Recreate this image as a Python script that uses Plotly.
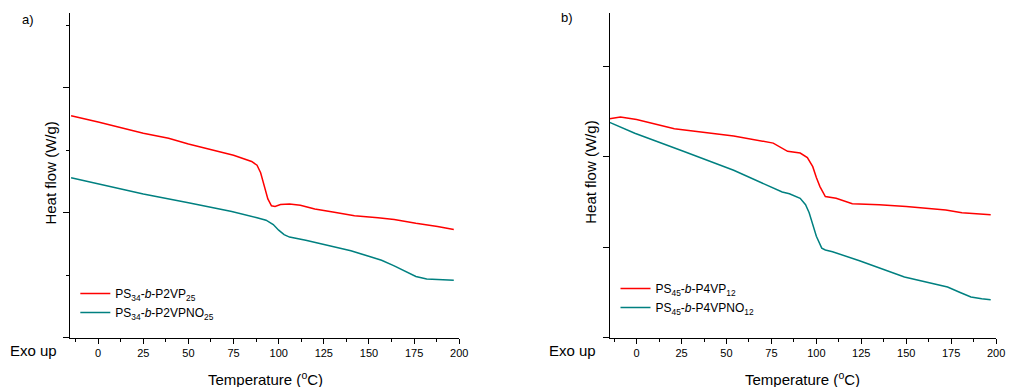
import plotly.graph_objects as go

W, H = 1016, 387

# ---- Data (heat flow in arbitrary units) ----
temp_a_p2vp = [-15, 0, 25, 39, 50, 75, 85, 88, 90, 92, 94, 96, 98, 101, 106, 112, 120, 130, 142, 155, 164, 176, 188, 197]
hf_a_p2vp = [3.55, 3.45, 3.27, 3.19, 3.10, 2.92, 2.82, 2.76, 2.64, 2.45, 2.22, 2.11, 2.10, 2.13, 2.14, 2.12, 2.06, 2.01, 1.95, 1.92, 1.89, 1.83, 1.78, 1.73]

temp_a_p2vpno = [-15, 0, 25, 50, 74, 88, 93, 97, 100, 103, 106, 115, 127, 140, 149, 157, 164, 170, 176, 182, 190, 197]
hf_a_p2vpno = [2.56, 2.46, 2.30, 2.16, 2.02, 1.92, 1.88, 1.81, 1.72, 1.65, 1.61, 1.56, 1.48, 1.39, 1.31, 1.24, 1.15, 1.06, 0.98, 0.94, 0.93, 0.92]

temp_b_p4vp = [-15, -9, 0, 21, 54, 76, 84, 88, 91, 95, 98, 100, 102, 105, 111, 120, 135, 150, 162, 172, 181, 190, 197]
hf_b_p4vp = [2.42, 2.44, 2.41, 2.31, 2.23, 2.15, 2.06, 2.05, 2.04, 1.99, 1.89, 1.77, 1.67, 1.56, 1.54, 1.48, 1.47, 1.45, 1.43, 1.41, 1.38, 1.37, 1.36]

temp_b_p4vpno = [-15, -1, 26, 54, 81, 85, 91, 94, 96, 98, 100, 103, 105, 109, 124, 149, 165, 173, 180, 186, 192, 197]
hf_b_p4vpno = [2.38, 2.26, 2.06, 1.85, 1.61, 1.59, 1.54, 1.47, 1.38, 1.25, 1.12, 0.99, 0.97, 0.95, 0.85, 0.67, 0.60, 0.56, 0.50, 0.45, 0.43, 0.42]

x_ticks = [0, 25, 50, 75, 100, 125, 150, 175, 200]

names_a = ["PS<sub>34</sub>-<i>b</i>-P2VP<sub>25</sub>", "PS<sub>34</sub>-<i>b</i>-P2VPNO<sub>25</sub>"]
names_b = ["PS<sub>45</sub>-<i>b</i>-P4VP<sub>12</sub>", "PS<sub>45</sub>-<i>b</i>-P4VPNO<sub>12</sub>"]

RED = "#FF0000"
TEAL = "#008080"
FONT = "Liberation Sans, Arial, sans-serif"

def px(x):
    return x / W

def py(y):
    return 1 - y / H

fig = go.Figure()
fig.add_trace(go.Scatter(x=temp_a_p2vp, y=hf_a_p2vp, mode="lines", name=names_a[0],
                         line=dict(color=RED, width=1.5), xaxis="x", yaxis="y", legend="legend"))
fig.add_trace(go.Scatter(x=temp_a_p2vpno, y=hf_a_p2vpno, mode="lines", name=names_a[1],
                         line=dict(color=TEAL, width=1.5), xaxis="x", yaxis="y", legend="legend"))
fig.add_trace(go.Scatter(x=temp_b_p4vp, y=hf_b_p4vp, mode="lines", name=names_b[0],
                         line=dict(color=RED, width=1.5), xaxis="x2", yaxis="y2", legend="legend2"))
fig.add_trace(go.Scatter(x=temp_b_p4vpno, y=hf_b_p4vpno, mode="lines", name=names_b[1],
                         line=dict(color=TEAL, width=1.5), xaxis="x2", yaxis="y2", legend="legend2"))

ydom = [py(337.7), py(13)]
xcommon = dict(showgrid=False, zeroline=False, showline=True, linecolor="black", linewidth=1,
               ticks="outside", ticklen=5, tickwidth=1, tickcolor="black",
               tickvals=x_ticks, tickfont=dict(size=11, color="black", family=FONT),
               minor=dict(dtick=12.5, tick0=0, ticks="outside", ticklen=3, tickcolor="black", tickwidth=1))
ycommon = dict(showgrid=False, zeroline=False, showline=True, linecolor="black", linewidth=1,
               ticks="outside", tickwidth=1, tickcolor="black", showticklabels=False)

fig.update_layout(
    width=W, height=H,
    margin=dict(l=0, r=0, t=0, b=0),
    paper_bgcolor="white", plot_bgcolor="white",
    font=dict(family=FONT, color="black"),
    xaxis=dict(domain=[px(71), px(463.3)], range=[-15.4, 200], anchor="y", **xcommon),
    yaxis=dict(domain=ydom, range=[0, 5.195], anchor="x", dtick=2, tick0=0, ticklen=6,
               minor=dict(dtick=1, tick0=0, ticks="outside", ticklen=3, tickcolor="black"), **ycommon),
    xaxis2=dict(domain=[px(615), px(1005)], range=[-15.05, 200], anchor="y2", **xcommon),
    yaxis2=dict(domain=ydom, range=[0, 3.588], anchor="x2", dtick=1, tick0=0, ticklen=6, **ycommon),
    legend=dict(x=px(76), y=py(279), xanchor="left", yanchor="top", bgcolor="rgba(0,0,0,0)",
                font=dict(size=12, family=FONT, color="black"), tracegroupgap=0, itemwidth=30),
    legend2=dict(x=px(621), y=py(274), xanchor="left", yanchor="top", bgcolor="rgba(0,0,0,0)",
                 font=dict(size=12, family=FONT, color="black"), tracegroupgap=0, itemwidth=30),
    showlegend=True,
)

def ann(text, x, y, size, angle=0):
    fig.add_annotation(text=text, x=px(x), y=py(y), xref="paper", yref="paper",
                       showarrow=False, xanchor="center", yanchor="middle", textangle=angle,
                       font=dict(size=size, family=FONT, color="black"))

ann("a)", 28.5, 19, 13)
ann("b)", 572.5, 18, 13)
ann("Exo up", 33.5, 350.5, 15)
ann("Exo up", 578, 350.5, 15)
ann("Temperature (<sup>o</sup>C)", 267.5, 378, 15)
ann("Temperature (<sup>o</sup>C)", 810, 378, 15)
ann("Heat flow (W/g)", 50.5, 173.5, 15, -90)
ann("Heat flow (W/g)", 595, 172, 15, -90)

fig.write_html("out.html", config={"displayModeBar": False},
               post_script="document.body.style.margin='0';document.body.style.overflow='hidden';")
